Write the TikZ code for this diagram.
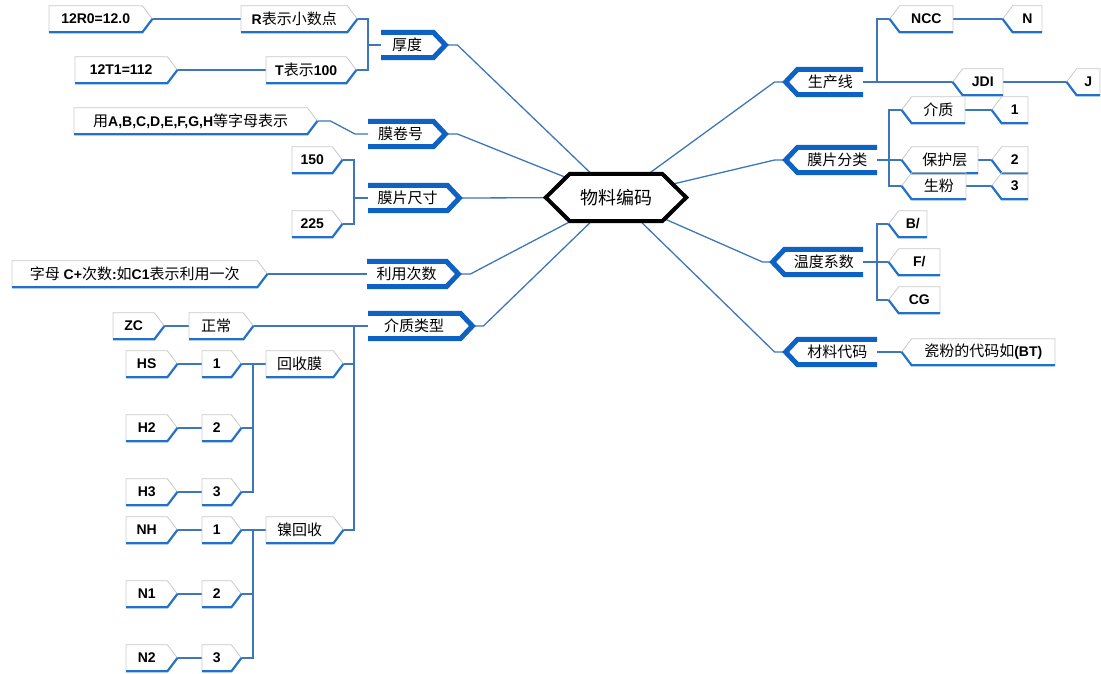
\documentclass[tikz,border=0pt]{standalone}
\usepackage{fontspec}
\setmainfont{Liberation Sans}
\newfontfamily\cjkfont{Noto Sans CJK SC}
\usetikzlibrary{backgrounds}

\definecolor{tagblue}{RGB}{14,98,196}
\definecolor{leafblue}{RGB}{34,112,200}
\definecolor{linkblue}{RGB}{62,118,186}
\definecolor{leafgray}{RGB}{200,200,200}

\newcommand{\zh}[1]{{\cjkfont\mdseries\fontsize{15}{18}\selectfont #1}}

\tikzset{
  link/.style={draw=linkblue, line width=1.3},
  root/.style={minimum width=92, minimum height=47, inner sep=0,
    font=\cjkfont\fontsize{18}{20}\selectfont,
    append after command={\pgfextra{\draw[black, line width=4, fill=white]
      (\tikzlastnode.north west) -- (\tikzlastnode.north east) -- ([xshift=24pt]\tikzlastnode.east)
      -- (\tikzlastnode.south east) -- (\tikzlastnode.south west) -- ([xshift=-24pt]\tikzlastnode.west) -- cycle;}}},
  ltopic/.style={anchor=west, minimum height=25, inner sep=0,
    font=\cjkfont\fontsize{15}{18}\selectfont,
    append after command={\pgfextra{\draw[tagblue, line width=5]
      (\tikzlastnode.north west) -- (\tikzlastnode.north east) -- ([xshift=12pt]\tikzlastnode.east)
      -- (\tikzlastnode.south east) -- (\tikzlastnode.south west);}}},
  rtopic/.style={anchor=east, minimum height=25, inner sep=0,
    font=\cjkfont\fontsize{15}{18}\selectfont,
    append after command={\pgfextra{\draw[tagblue, line width=5]
      (\tikzlastnode.north east) -- (\tikzlastnode.north west) -- ([xshift=-12pt]\tikzlastnode.west)
      -- (\tikzlastnode.south west) -- (\tikzlastnode.south east);}}},
  lleaf/.style={anchor=west, minimum height=26, inner sep=0,
    font=\bfseries\fontsize{14}{17}\selectfont,
    append after command={\pgfextra{
      \draw[leafgray, line width=0.8] (\tikzlastnode.south west) -- (\tikzlastnode.north west)
        -- (\tikzlastnode.north east) -- ([xshift=10pt]\tikzlastnode.east);
      \draw[leafblue, line width=2.2] ([xshift=10pt]\tikzlastnode.east) -- (\tikzlastnode.south east)
        -- (\tikzlastnode.south west);}}},
  rleaf/.style={anchor=east, minimum height=26, inner sep=0,
    font=\bfseries\fontsize{14}{17}\selectfont,
    append after command={\pgfextra{
      \draw[leafgray, line width=0.8] (\tikzlastnode.south east) -- (\tikzlastnode.north east)
        -- (\tikzlastnode.north west) -- ([xshift=-10pt]\tikzlastnode.west);
      \draw[leafblue, line width=2.2] ([xshift=-10pt]\tikzlastnode.west) -- (\tikzlastnode.south west)
        -- (\tikzlastnode.south east);}}},
}

\begin{document}
\begin{tikzpicture}[x=1pt,y=-1pt]
\useasboundingbox (0,0) rectangle (1101,674);

\node[root] (root) at (616,197.5) {物料编码};

% left side
\node[ltopic, minimum width=52] (houdu) at (381,45) {厚度};
\node[lleaf, minimum width=106] (rdec) at (241,19) {R\zh{表示小数点}};
\node[lleaf, minimum width=93] (rex) at (49,19) {12R0=12.0};
\node[lleaf, minimum width=80] (thun) at (266,70) {T\zh{表示}100};
\node[lleaf, minimum width=92] (tex) at (75,70) {12T1=112};

\node[ltopic, minimum width=65] (juan) at (368,134) {膜卷号};
\node[lleaf, minimum width=233] (zimu) at (74,121) {\zh{用}A,B,C,D,E,F,G,H\zh{等字母表示}};

\node[ltopic, minimum width=79] (chicun) at (368,198) {膜片尺寸};
\node[lleaf, minimum width=40] (c150) at (292,160) {150};
\node[lleaf, minimum width=40] (c225) at (292,224) {225};

\node[ltopic, minimum width=79] (cishu) at (367,274) {利用次数};
\node[lleaf, minimum width=245] (cdesc) at (12,274) {\zh{字母} C+\zh{次数}:\zh{如}C1\zh{表示利用一次}};

\node[ltopic, minimum width=92] (jzlx) at (368,326) {介质类型};
\node[lleaf, minimum width=54] (zhch) at (189,326) {\zh{正常}};
\node[lleaf, minimum width=41] (zc) at (113,326) {ZC};
\node[lleaf, minimum width=67] (hsm) at (266,364) {\zh{回收膜}};
\node[lleaf, minimum width=29] (h1) at (202,364) {1};
\node[lleaf, minimum width=29] (h2) at (202,428) {2};
\node[lleaf, minimum width=29] (h3) at (202,492) {3};
\node[lleaf, minimum width=41] (hs) at (126,364) {HS};
\node[lleaf, minimum width=41] (hh2) at (126,428) {H2};
\node[lleaf, minimum width=41] (hh3) at (126,492) {H3};
\node[lleaf, minimum width=67] (nie) at (266,530) {\zh{镍回收}};
\node[lleaf, minimum width=29] (n1) at (202,530) {1};
\node[lleaf, minimum width=29] (n2) at (202,594) {2};
\node[lleaf, minimum width=29] (n3) at (202,658) {3};
\node[lleaf, minimum width=41] (nh) at (126,530) {NH};
\node[lleaf, minimum width=41] (nn1) at (126,594) {N1};
\node[lleaf, minimum width=41] (nn2) at (126,658) {N2};

% right side
\node[rtopic, minimum width=65] (scx) at (863,82) {生产线};
\node[rleaf, minimum width=53] (ncc) at (953,19) {NCC};
\node[rleaf, minimum width=29] (ncn) at (1042,19) {N};
\node[rleaf, minimum width=40] (jdi) at (1003,82) {JDI};
\node[rleaf, minimum width=23] (jdj) at (1100,82) {J};

\node[rtopic, minimum width=79] (fenlei) at (877,160) {膜片分类};
\node[rleaf, minimum width=53] (jiezhi) at (965,110) {\zh{介质}};
\node[rleaf, minimum width=26] (f1) at (1028,110) {1};
\node[rleaf, minimum width=66] (bhc) at (978,160) {\zh{保护层}};
\node[rleaf, minimum width=26] (f2) at (1028,160) {2};
\node[rleaf, minimum width=54] (shf) at (966,186) {\zh{生粉}};
\node[rleaf, minimum width=26] (f3) at (1028,186) {3};

\node[rtopic, minimum width=78] (wendu) at (863,262) {温度系数};
\node[rleaf, minimum width=28] (wb) at (927,224) {B/};
\node[rleaf, minimum width=41] (wf) at (940,262) {F/};
\node[rleaf, minimum width=41] (wcg) at (940,300) {CG};

\node[rtopic, minimum width=79] (cailiao) at (877,352) {材料代码};
\node[rleaf, minimum width=143] (cifen) at (1055,352) {\zh{瓷粉的代码如}(BT)};

\begin{pgfonlayer}{background}
\draw[link] (root.center) -- ([xshift=24pt]houdu.east) -- ([xshift=12pt]houdu.east);
\draw[link] (root.center) -- ([xshift=24pt]juan.east) -- ([xshift=12pt]juan.east);
\draw[link] (root.center) -- ([xshift=12pt]chicun.east);
\draw[link] (root.center) -- ([xshift=24pt]cishu.east) -- ([xshift=12pt]cishu.east);
\draw[link] (root.center) -- ([xshift=23pt]jzlx.east) -- ([xshift=12pt]jzlx.east);
\draw[link] (root.center) -- ([xshift=-23pt]scx.west) -- ([xshift=-12pt]scx.west);
\draw[link] (root.center) -- ([xshift=-23pt]fenlei.west) -- ([xshift=-12pt]fenlei.west);
\draw[link] (root.center) -- ([xshift=-22pt]wendu.west) -- ([xshift=-12pt]wendu.west);
\draw[link] (root.center) -- ([xshift=-23pt]cailiao.west) -- ([xshift=-12pt]cailiao.west);

\draw[link] (houdu.west) -- ++(-13,0) |- ([xshift=10pt]rdec.east);
\draw[link] (houdu.west) -- ++(-13,0) |- ([xshift=10pt]thun.east);
\draw[link] (rdec.west) -- ([xshift=10pt]rex.east);
\draw[link] (thun.west) -- ([xshift=10pt]tex.east);
\draw[link] (juan.west) -- ++(-13,0) -- ([xshift=23pt]zimu.east) -- ([xshift=10pt]zimu.east);
\draw[link] (chicun.west) -- ++(-14,0) |- ([xshift=10pt]c150.east);
\draw[link] (chicun.west) -- ++(-14,0) |- ([xshift=10pt]c225.east);
\draw[link] (cishu.west) -- ([xshift=10pt]cdesc.east);

\draw[link] (jzlx.west) -- ([xshift=10pt]zhch.east);
\draw[link] (jzlx.west) -- ++(-14,0) |- ([xshift=10pt]hsm.east);
\draw[link] (jzlx.west) -- ++(-14,0) |- ([xshift=10pt]nie.east);
\draw[link] (zhch.west) -- ([xshift=10pt]zc.east);
\draw[link] (hsm.west) -- ++(-13,0) |- ([xshift=10pt]h1.east);
\draw[link] (hsm.west) -- ++(-13,0) |- ([xshift=10pt]h2.east);
\draw[link] (hsm.west) -- ++(-13,0) |- ([xshift=10pt]h3.east);
\draw[link] (h1.west) -- ([xshift=10pt]hs.east);
\draw[link] (h2.west) -- ([xshift=10pt]hh2.east);
\draw[link] (h3.west) -- ([xshift=10pt]hh3.east);
\draw[link] (nie.west) -- ++(-13,0) |- ([xshift=10pt]n1.east);
\draw[link] (nie.west) -- ++(-13,0) |- ([xshift=10pt]n2.east);
\draw[link] (nie.west) -- ++(-13,0) |- ([xshift=10pt]n3.east);
\draw[link] (n1.west) -- ([xshift=10pt]nh.east);
\draw[link] (n2.west) -- ([xshift=10pt]nn1.east);
\draw[link] (n3.west) -- ([xshift=10pt]nn2.east);

\draw[link] (scx.east) -- ++(14,0) |- ([xshift=-10pt]ncc.west);
\draw[link] (scx.east) -- ([xshift=-10pt]jdi.west);
\draw[link] (ncc.east) -- ([xshift=-10pt]ncn.west);
\draw[link] (jdi.east) -- ([xshift=-10pt]jdj.west);
\draw[link] (fenlei.east) -- ++(12,0) |- ([xshift=-10pt]jiezhi.west);
\draw[link] (fenlei.east) -- ([xshift=-10pt]bhc.west);
\draw[link] (fenlei.east) -- ++(12,0) |- ([xshift=-10pt]shf.west);
\draw[link] (jiezhi.east) -- ([xshift=-10pt]f1.west);
\draw[link] (bhc.east) -- ([xshift=-10pt]f2.west);
\draw[link] (shf.east) -- ([xshift=-10pt]f3.west);
\draw[link] (wendu.east) -- ++(14,0) |- ([xshift=-10pt]wb.west);
\draw[link] (wendu.east) -- ([xshift=-10pt]wf.west);
\draw[link] (wendu.east) -- ++(14,0) |- ([xshift=-10pt]wcg.west);
\draw[link] (cailiao.east) -- ([xshift=-10pt]cifen.west);
\end{pgfonlayer}
\end{tikzpicture}
\end{document}
